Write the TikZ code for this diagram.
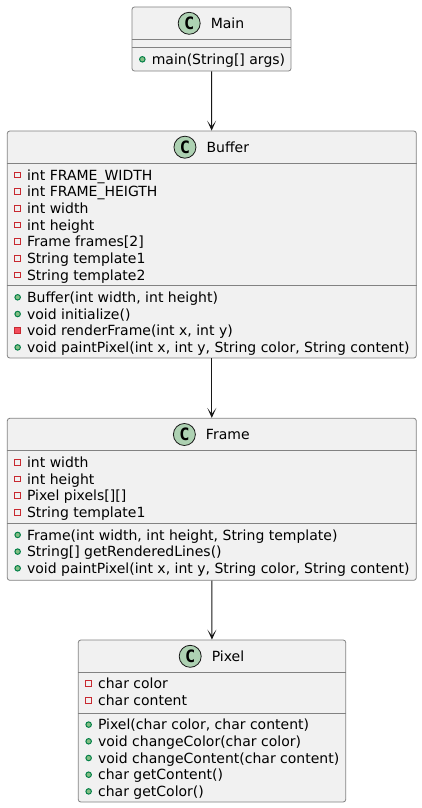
\documentclass[tikz,border=0pt]{standalone}
\usepackage{fontspec}
\setmainfont{DejaVu Sans}
\newfontfamily\badgefont{DejaVu Sans Mono}
\usetikzlibrary{
  positioning,
  calc,
  arrows.meta}
\definecolor{boxcolor}{RGB}{241,241,241}
\definecolor{linecolor}{RGB}{130,130,130}
\definecolor{badgecolor}{RGB}{173,209,178}
\definecolor{inkcolor}{RGB}{24,24,24}
\definecolor{privline}{RGB}{200,41,48}
\definecolor{privfill}{RGB}{242,77,92}
\definecolor{publine}{RGB}{3,128,72}
\definecolor{pubfill}{RGB}{132,190,132}
\tikzset{
  assoc_arrow/.style={-{Stealth[length=10pt, width=9pt, inset=6pt]}, inkcolor, line width=1pt}
}
\tikzset{
  %% classbox : the frame of one class
  classbox/.style={
    rectangle,
    draw=linecolor,
    fill=boxcolor,
    line width=0.8pt,
    rounded corners=2.5pt,
    inner sep=0pt
  },
  %% classname : the name in the header
  classname/.style={
    inner sep=0pt,
    text height=13.25pt,
    text depth=3.05pt,
    font=\fontsize{14}{16.3}\selectfont
  },
  %% badge : the round "C" in front of the name
  badge/.style={
    circle,
    draw=inkcolor,
    fill=badgecolor,
    line width=0.8pt,
    minimum size=22pt,
    inner sep=0pt,
    font=\badgefont\bfseries\fontsize{17}{17}\selectfont
  },
  %% sepline : line between compartments
  sepline/.style={linecolor, line width=0.8pt},
  %% member : one attribute or operation
  member/.style={
    anchor=west,
    inner sep=0pt,
    text height=13.25pt,
    text depth=3.05pt,
    font=\fontsize{14}{16.3}\selectfont
  },
  stack/.style={below=0pt of #1.south west, anchor=north west},
  %% visibility icons
  icon/.style={inner sep=0pt, text height=0pt, text depth=0pt, line width=1pt},
  privfield/.style={label={[icon, rectangle, draw=privline, minimum size=5.5pt]left:{}}},
  privmeth/.style={label={[icon, rectangle, draw=privline, fill=privfill, minimum size=6pt]left:{}}},
  pubmeth/.style={label={[icon, circle, draw=publine, fill=pubfill, minimum size=5.5pt]left:{}}}
}

\begin{document}
\begin{tikzpicture}
  [x=1pt,
  y=-1pt,
  label distance=6pt]
  \useasboundingbox [fill=white] (0,0) rectangle (422,808);

  %% Main
  \node (main) [classbox, minimum width=159pt, minimum height=64pt] at (211.5,39) {};
  \node (main-name) [classname] at (227.5,23.3) {Main};
  \node (main-c) [badge, left=10pt of main-name] {C};
  \coordinate (main-s1) at (main.west |- 0,39.3);
  \coordinate (main-s2) at (main.west |- 0,47.7);
  \draw [sepline] (main-s1) -- (main-s1 -| main.east);
  \draw [sepline] (main-s2) -- (main-s2 -| main.east);

  \node (main-m1) [member, pubmeth, below right=3.25pt and 20pt of main-s2] {main(String[] args)};

  %% Buffer
  \node (buffer) [classbox, minimum width=409pt, minimum height=227pt] at (211.8,244.5) {};
  \node (buffer-name) [classname] at (227.8,147.2) {Buffer};
  \node (buffer-c) [badge, left=10pt of buffer-name] {C};
  \coordinate (buffer-s1) at (buffer.west |- 0,163.3);
  \coordinate (buffer-s2) at (buffer.west |- 0,285.7);
  \draw [sepline] (buffer-s1) -- (buffer-s1 -| buffer.east);
  \draw [sepline] (buffer-s2) -- (buffer-s2 -| buffer.east);

  \node (buffer-a1) [member, privfield, below right=3.25pt and 20pt of buffer-s1] {int FRAME\_WIDTH};
  \node (buffer-a2) [member, privfield, stack=buffer-a1] {int FRAME\_HEIGTH};
  \node (buffer-a3) [member, privfield, stack=buffer-a2] {int width};
  \node (buffer-a4) [member, privfield, stack=buffer-a3] {int height};
  \node (buffer-a5) [member, privfield, stack=buffer-a4] {Frame frames[2]};
  \node (buffer-a6) [member, privfield, stack=buffer-a5] {String template1};
  \node (buffer-a7) [member, privfield, stack=buffer-a6] {String template2};

  \node (buffer-m1) [member, pubmeth, below right=3.25pt and 20pt of buffer-s2] {Buffer(int width, int height)};
  \node (buffer-m2) [member, pubmeth, stack=buffer-m1] {void initialize()};
  \node (buffer-m3) [member, privmeth, stack=buffer-m2] {void renderFrame(int x, int y)};
  \node (buffer-m4) [member, pubmeth, stack=buffer-m3] {void paintPixel(int x, int y, String color, String content)};

  %% Frame
  \node (frame) [classbox, minimum width=409pt, minimum height=162pt] at (211.8,499.3) {};
  \node (frame-name) [classname] at (227.8,434.5) {Frame};
  \node (frame-c) [badge, left=10pt of frame-name] {C};
  \coordinate (frame-s1) at (frame.west |- 0,450.7);
  \coordinate (frame-s2) at (frame.west |- 0,523.3);
  \draw [sepline] (frame-s1) -- (frame-s1 -| frame.east);
  \draw [sepline] (frame-s2) -- (frame-s2 -| frame.east);

  \node (frame-a1) [member, privfield, below right=3.25pt and 20pt of frame-s1] {int width};
  \node (frame-a2) [member, privfield, stack=frame-a1] {int height};
  \node (frame-a3) [member, privfield, stack=frame-a2] {Pixel pixels[][]};
  \node (frame-a4) [member, privfield, stack=frame-a3] {String template1};

  \node (frame-m1) [member, pubmeth, below right=3.25pt and 20pt of frame-s2] {Frame(int width, int height, String template)};
  \node (frame-m2) [member, pubmeth, stack=frame-m1] {String[] getRenderedLines()};
  \node (frame-m3) [member, pubmeth, stack=frame-m2] {void paintPixel(int x, int y, String color, String content)};

  %% Pixel
  \node (pixel) [classbox, minimum width=267.4pt, minimum height=162pt] at (212,721) {};
  \node (pixel-name) [classname] at (228,656.3) {Pixel};
  \node (pixel-c) [badge, left=10pt of pixel-name] {C};
  \coordinate (pixel-s1) at (pixel.west |- 0,672);
  \coordinate (pixel-s2) at (pixel.west |- 0,713);
  \draw [sepline] (pixel-s1) -- (pixel-s1 -| pixel.east);
  \draw [sepline] (pixel-s2) -- (pixel-s2 -| pixel.east);

  \node (pixel-a1) [member, privfield, below right=3.25pt and 20pt of pixel-s1] {char color};
  \node (pixel-a2) [member, privfield, stack=pixel-a1] {char content};

  \node (pixel-m1) [member, pubmeth, below right=3.25pt and 20pt of pixel-s2] {Pixel(char color, char content)};
  \node (pixel-m2) [member, pubmeth, stack=pixel-m1] {void changeColor(char color)};
  \node (pixel-m3) [member, pubmeth, stack=pixel-m2] {void changeContent(char content)};
  \node (pixel-m4) [member, pubmeth, stack=pixel-m3] {char getContent()};
  \node (pixel-m5) [member, pubmeth, stack=pixel-m4] {char getColor()};

  %% Connections
  \draw [assoc_arrow] (main) -- (buffer);
  \draw [assoc_arrow] (buffer) -- (frame);
  \draw [assoc_arrow] (frame) -- (pixel);

\end{tikzpicture}
\end{document}
